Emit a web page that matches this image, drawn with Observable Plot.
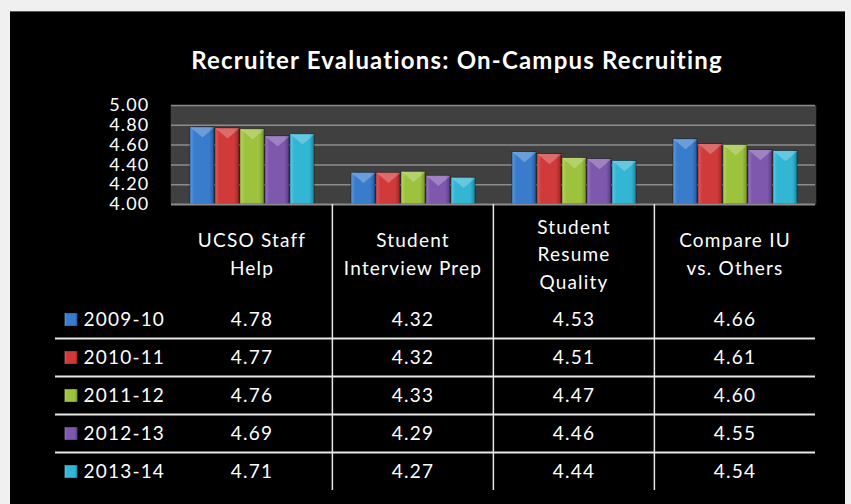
<!DOCTYPE html>
<html><head><meta charset="utf-8">
<script src="https://cdn.jsdelivr.net/npm/d3@7"></script>
<script src="https://cdn.jsdelivr.net/npm/@observablehq/plot@0.6"></script>
<style>
html,body{margin:0;padding:0;background:#f0f0f0;width:851px;height:504px;overflow:hidden;}
#panel{position:absolute;left:10px;top:11px;width:835px;height:493px;background:#000;box-shadow:inset 0 1px 0 #5a5a5a;}
#title{position:absolute;left:447px;top:35px;transform:translateX(-50%);white-space:nowrap;color:#fff;font:bold 24px Lato, sans-serif;letter-spacing:1.2px;line-height:28px;font-variant-ligatures:none;}
#chart{position:absolute;left:0;top:84px;}
#table{position:absolute;left:0;top:193px;}
</style></head><body>
<div id="panel"><div id="title">Recruiter Evaluations: On-Campus Recruiting</div><div id="chart"></div><div id="table"></div></div>
<script>
const categories = ["UCSO Staff\nHelp", "Student\nInterview Prep", "Student\nResume\nQuality", "Compare IU\nvs. Others"];
const years = ["2009-10", "2010-11", "2011-12", "2012-13", "2013-14"];
const v2009 = [4.78, 4.32, 4.53, 4.66];
const v2010 = [4.77, 4.32, 4.51, 4.61];
const v2011 = [4.76, 4.33, 4.47, 4.60];
const v2012 = [4.69, 4.29, 4.46, 4.55];
const v2013 = [4.71, 4.27, 4.44, 4.54];
const yTicks = [4.00, 4.20, 4.40, 4.60, 4.80, 5.00];
const seriesColors = [
  ["#5b9be3", "#3a7ccc", "#28589a"],
  ["#e35b5b", "#d03a3a", "#9c2626"],
  ["#b6d85c", "#9cc23e", "#76952a"],
  ["#9873c6", "#7e58ad", "#5a3d84"],
  ["#58cce7", "#33b5d4", "#1f86a0"]
];

const series = [v2009, v2010, v2011, v2012, v2013];
const data = categories.flatMap((c, j) => years.map((y, i) => ({cat: c, year: y, value: series[i][j]})));

const W = 835, ML = 160, MR = 30;
const step = (W - ML - MR) / categories.length;
const gradIds = years.map((_, i) => `barGrad${i}`);
const colorScale = {domain: years, range: gradIds.map(id => `url(#${id})`)};
const baseStyle = {background: "transparent", color: "white", fontFamily: "Lato, sans-serif", fontSize: "19px", letterSpacing: "1.2px", overflow: "visible"};

const bevel = {draw(ctx, size) {
  const w = Math.sqrt(size / Math.PI);
  ctx.moveTo(-w, 0); ctx.lineTo(w, 0); ctx.lineTo(0, w * 0.85); ctx.closePath();
}};

const chart = Plot.plot({
  width: W, height: 111, marginLeft: ML, marginRight: MR, marginTop: 10, marginBottom: 2,
  style: baseStyle,
  fx: {domain: categories, padding: 0, axis: null},
  x: {type: "band", domain: years, paddingInner: 0.04, paddingOuter: 0.72, axis: null},
  y: {domain: [4, 5], axis: null},
  color: colorScale,
  marks: [
    Plot.frame({fill: "#404040", stroke: null, insetLeft: -0.8, insetRight: -0.8}),
    Plot.gridY(yTicks.slice(1), {stroke: "#8c8c8c", strokeOpacity: 1, strokeWidth: 1.5}),
    Plot.barY(data, {fx: "cat", x: "year", y1: 4, y2: "value", fill: "year", stroke: "rgba(0,0,0,0.5)", strokeWidth: 0.8}),
    Plot.dot(data, {fx: "cat", x: "year", y: "value", symbol: bevel, r: 12, fill: "white", fillOpacity: 0.25}),
    Plot.ruleY([4], {stroke: "#8c8c8c", strokeWidth: 2}),
    Plot.axisY(yTicks, {label: null, tickSize: 0, tickPadding: 22, tickFormat: d => d.toFixed(2), line: true, stroke: "#8c8c8c", fill: "white", fontSize: 18, letterSpacing: "1.5px"})
  ]
});

const defs = d3.select(chart).append("defs");
seriesColors.forEach(([light, base, dark], i) => {
  const g = defs.append("linearGradient").attr("id", gradIds[i]).attr("x1", 0).attr("x2", 1).attr("y1", 0).attr("y2", 0);
  g.append("stop").attr("offset", "0%").attr("stop-color", light);
  g.append("stop").attr("offset", "18%").attr("stop-color", base);
  g.append("stop").attr("offset", "80%").attr("stop-color", base);
  g.append("stop").attr("offset", "100%").attr("stop-color", dark);
});
document.getElementById("chart").append(chart);

const TH = 300, TMT = 96, TMB = 14;
const rowH = (TH - TMT - TMB) / years.length;
const table = Plot.plot({
  width: W, height: TH, marginLeft: ML, marginRight: MR, marginTop: TMT, marginBottom: TMB,
  style: baseStyle,
  x: {type: "band", domain: categories, padding: 0, axis: null},
  y: {type: "band", domain: years, padding: 0, axis: null},
  color: colorScale,
  marks: [
    Plot.text(categories, {x: d => d, frameAnchor: "top", dy: -48, lineAnchor: "middle", lineHeight: 1.47, fill: "white", fontSize: 19}),
    Plot.ruleX(categories.slice(1), {x: d => d, dx: -step / 2, insetTop: -TMT, stroke: "#e8e8e8", strokeWidth: 1.5}),
    Plot.ruleY(years.slice(1), {y: d => d, dy: -rowH / 2, insetLeft: -115, stroke: "#e8e8e8", strokeWidth: 1.8}),
    Plot.text(data, {x: "cat", y: "year", text: d => d.value.toFixed(2), fill: "white", fontSize: 19}),
    Plot.dot(years, {y: d => d, frameAnchor: "left", dx: -99.5, symbol: "square", r: 7.3, fill: d => d, stroke: "rgba(0,0,0,0.4)", strokeWidth: 0.6}),
    Plot.text(years, {y: d => d, frameAnchor: "left", dx: -87, textAnchor: "start", fill: "white", fontSize: 19})
  ]
});
document.getElementById("table").append(table);
</script>
</body></html>
